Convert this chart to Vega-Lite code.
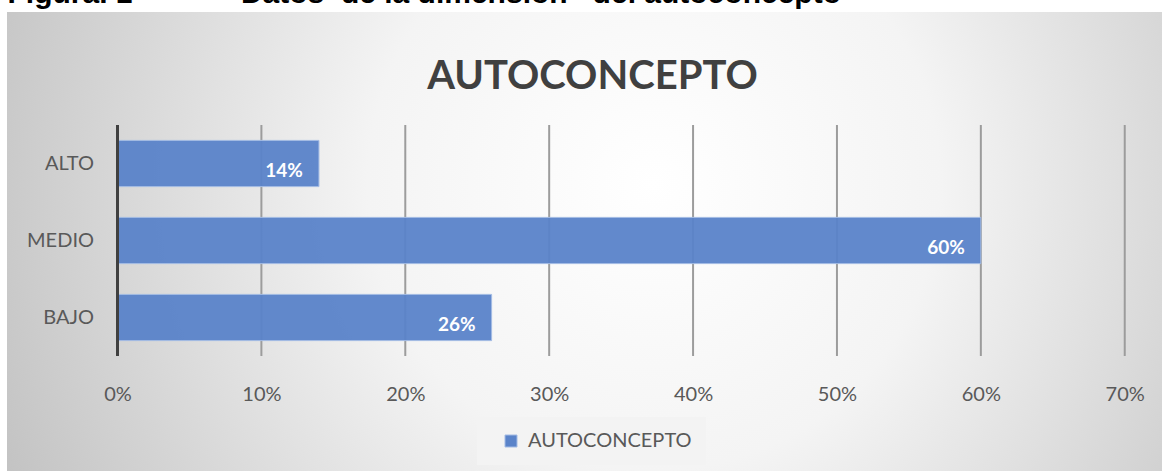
{
  "$schema": "https://vega.github.io/schema/vega-lite/v6.json",
  "width": 1155,
  "height": 459,
  "autosize": {"type": "none"},
  "padding": {"left": 7, "top": 12, "right": 0, "bottom": 0},
  "background": "#ffffff",
  "view": {
    "stroke": null,
    "fill": {
      "gradient": "radial",
      "x1": 0.56, "y1": 0.45, "r1": 0,
      "x2": 0.56, "y2": 0.45, "r2": 0.62,
      "stops": [
        {"offset": 0, "color": "#ffffff"},
        {"offset": 0.4, "color": "#f4f4f4"},
        {"offset": 1, "color": "#c2c2c2"}
      ]
    }
  },
  "title": {
    "text": "AUTOCONCEPTO",
    "font": "Lato",
    "fontSize": 40,
    "fontWeight": "bold",
    "color": "#404040",
    "anchor": "middle",
    "frame": "group",
    "offset": -119,
    "dx": 8
  },
  "datasets": {
    "niveles": [
      {"nivel": "ALTO", "pct": 0.14},
      {"nivel": "MEDIO", "pct": 0.60},
      {"nivel": "BAJO", "pct": 0.26}
    ],
    "marcas": [
      {"t": 0.1}, {"t": 0.2}, {"t": 0.3}, {"t": 0.4}, {"t": 0.5}, {"t": 0.6}, {"t": 0.7}
    ]
  },
  "layer": [
    {
      "data": {"name": "marcas"},
      "mark": {"type": "rule", "color": "#9c9c9c", "strokeWidth": 2},
      "encoding": {
        "x": {"field": "t", "type": "quantitative"},
        "y": {"datum": "ALTO", "type": "nominal", "bandPosition": -0.333},
        "y2": {"datum": "BAJO", "bandPosition": 1.333}
      }
    },
    {
      "data": {"name": "niveles"},
      "mark": {"type": "bar", "fill": "#5a83c9", "fillOpacity": 0.95, "stroke": "#a3bbe4", "strokeWidth": 1},
      "encoding": {
        "y": {
          "field": "nivel",
          "type": "nominal",
          "scale": {"domain": ["ALTO", "MEDIO", "BAJO"], "range": [113, 344], "paddingInner": 0.4, "paddingOuter": 0.2},
          "axis": {
            "title": null,
            "offset": -110.5,
            "domain": false,
            "ticks": false,
            "labelPadding": 24,
            "labelFont": "Lato",
            "labelFontSize": 20,
            "labelColor": "#595959"
          }
        },
        "x": {
          "field": "pct",
          "type": "quantitative",
          "scale": {"domain": [-0.0768, 0.7259], "nice": false, "zero": false},
          "axis": {
            "values": [0, 0.1, 0.2, 0.3, 0.4, 0.5, 0.6, 0.7],
            "format": ".0%",
            "offset": -115,
            "domain": false,
            "ticks": false,
            "grid": false,
            "labelPadding": 28,
            "labelFont": "Lato",
            "labelFontSize": 20,
            "labelColor": "#595959",
            "title": "Figura. 1\u00a0\u00a0\u00a0\u00a0\u00a0\u00a0\u00a0\u00a0\u00a0\u00a0\u00a0\u00a0\u00a0Datos\u00a0\u00a0de la dimensión\u00a0\u00a0\u00a0del autoconcepto",
            "titleFont": "Liberation Sans",
            "titleFontSize": 30,
            "titleFontWeight": "bold",
            "titleColor": "#000000",
            "titleAngle": 0,
            "titleAlign": "left",
            "titleBaseline": "alphabetic",
            "titleAnchor": null,
            "titleX": 0,
            "titleY": -354,
            "titleLimit": 1200
          }
        },
        "color": {
          "datum": "AUTOCONCEPTO",
          "type": "nominal",
          "scale": {"range": ["#5a83c9"]},
          "legend": {
            "title": null,
            "orient": "none",
            "legendX": 470,
            "legendY": 405,
            "padding": 14,
            "symbolOffset": 10,
            "fillColor": "#f3f3f3",
            "symbolType": "square",
            "symbolSize": 144,
            "symbolStrokeColor": "#a3bbe4",
            "symbolStrokeWidth": 1,
            "labelFont": "Lato",
            "labelFontSize": 20,
            "labelColor": "#595959",
            "labelOffset": 7,
            "labelLimit": 400
          }
        }
      }
    },
    {
      "data": {"name": "niveles"},
      "mark": {"type": "rule", "color": "#404040", "strokeWidth": 3},
      "encoding": {
        "x": {"datum": 0, "type": "quantitative"},
        "y": {"datum": "ALTO", "type": "nominal", "bandPosition": -0.333},
        "y2": {"datum": "BAJO", "bandPosition": 1.333}
      }
    },
    {
      "data": {"name": "niveles"},
      "mark": {"type": "text", "align": "right", "baseline": "middle", "dx": -16, "dy": 7, "font": "Lato", "fontSize": 19, "fontWeight": "bold", "color": "#ffffff"},
      "encoding": {
        "y": {"field": "nivel", "type": "nominal"},
        "x": {"field": "pct", "type": "quantitative"},
        "text": {"field": "pct", "type": "quantitative", "format": ".0%"}
      }
    }
  ]
}
